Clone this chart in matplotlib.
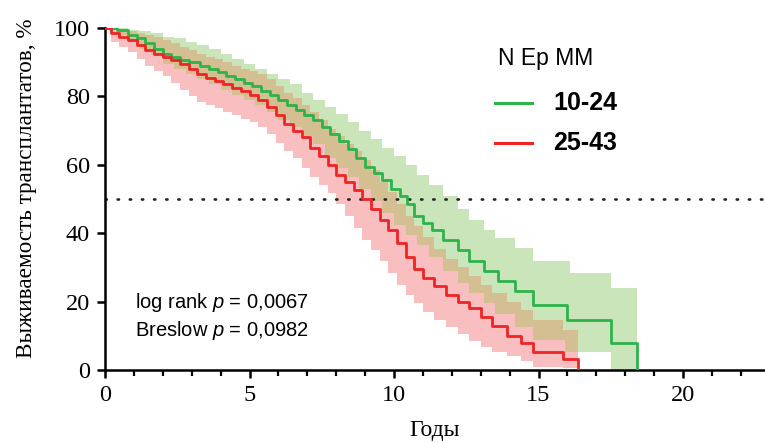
import numpy as np
import matplotlib
matplotlib.use("Agg")
import matplotlib.pyplot as plt
from matplotlib.lines import Line2D

# ---------------- data ----------------
green_label = "10-24"
red_label = "25-43"
legend_title = "N Ep MM"

green_t = [0.0, 0.4, 0.8, 1.1, 1.4, 1.7, 2.0, 2.3, 2.6, 2.9, 3.3, 3.6, 3.9, 4.2, 4.5, 4.8,
           5.1, 5.4, 5.7, 6.0, 6.3, 6.6, 6.9, 7.2, 7.5, 7.8, 8.1, 8.4, 8.7, 9.0, 9.3, 9.6,
           9.9, 10.2, 10.45, 10.7, 11.0, 11.3, 11.7, 12.2, 12.6, 13.1, 13.6, 14.2, 14.8,
           16.0, 17.5, 18.4]
green_s = [100, 99.5, 98, 97, 95.5, 94, 92.5, 91.5, 90.5, 90, 89, 88, 87, 86, 85, 84,
           83, 81.5, 80.5, 79, 77.5, 76, 74.5, 73, 71, 69, 67, 64.5, 62, 59.5, 57.5, 55.5,
           53, 51, 48.5, 45, 43, 41, 38, 35, 32, 29, 26, 23, 19,
           14.5, 8, 0]

red_t = [0.0, 0.2, 0.5, 0.8, 1.1, 1.4, 1.7, 2.0, 2.3, 2.6, 2.9, 3.2, 3.5, 3.8, 4.1, 4.4,
         4.7, 5.0, 5.3, 5.6, 5.9, 6.2, 6.5, 6.8, 7.1, 7.4, 7.7, 8.0, 8.3, 8.6, 8.9, 9.2,
         9.5, 9.8, 10.1, 10.4, 10.7, 11.0, 11.4, 11.8, 12.2, 12.6, 13.0, 13.4, 13.9, 14.4,
         14.8, 15.85, 16.35]
red_s = [100, 98.5, 97.5, 96.5, 95, 93.5, 92.5, 91.5, 90.5, 89.5, 88, 86.5, 85.5, 84.5, 83.5, 82.5,
         81.5, 80.5, 79, 77, 74.5, 72, 70, 68, 65, 62.5, 60, 57, 55, 52.5, 50, 47,
         44, 41, 37, 33, 29.5, 27, 24.5, 22, 20, 18, 15.5, 13, 10, 8,
         5.3, 3.2, 0]

green_ci_t = [0.0, 0.4, 0.8, 1.2, 1.6, 2.0, 2.4, 2.8, 3.2, 3.6, 4.0, 4.4, 4.8, 5.2, 5.6, 6.0,
              6.4, 6.8, 7.2, 7.6, 8.0, 8.4, 8.8, 9.2, 9.6, 10.0, 10.4, 10.8, 11.2, 11.7, 12.2,
              12.6, 13.1, 13.5, 14.2, 14.8, 15.9, 16.1, 17.5, 18.4]
green_ci_lo = [100, 98, 96, 94, 92, 89.5, 88, 86.5, 85, 83.5, 82, 80.5, 79, 77.5, 75.5, 73,
               71, 68.5, 66, 62, 59, 56.5, 53, 49.5, 46, 42.5, 39.5, 36.5, 33, 29, 25.5,
               22.5, 19.5, 16.5, 12.5, 8.8, 5.3, 5.3, 0, 0]
green_ci_hi = [100, 100, 99.5, 99, 98.5, 97.5, 97, 96, 95, 94, 92.5, 91, 89.5, 88, 86.5, 85,
               83.5, 81, 79, 77, 75, 72.5, 70, 67.5, 65, 62.5, 60, 57, 54, 51, 47,
               44, 41, 38.5, 35.7, 32, 32, 28.4, 24, 24]

red_ci_t = [0.0, 0.2, 0.5, 0.8, 1.1, 1.4, 1.7, 2.0, 2.3, 2.6, 2.9, 3.2, 3.5, 3.8, 4.1, 4.4,
            4.7, 5.0, 5.3, 5.6, 5.9, 6.2, 6.5, 6.8, 7.1, 7.4, 7.7, 8.0, 8.3, 8.6, 8.9, 9.2,
            9.5, 9.8, 10.1, 10.4, 10.7, 11.0, 11.4, 11.8, 12.2, 12.6, 13.0, 13.4, 13.9, 14.4,
            14.8, 15.85, 16.35]
red_ci_lo = [100, 96, 94.5, 93, 91, 89, 87.5, 86, 84, 82, 80, 78.5, 77.5, 76.5, 75.5, 74.5,
             73.5, 72.5, 71, 69, 66.5, 64, 62, 59, 56.5, 54, 51.7, 48.5, 45, 41.5, 38, 35,
             32, 28.5, 25, 22, 19.6, 17, 14.5, 12.6, 10.5, 8.5, 6.7, 5.3, 4, 2.5,
             1, 0.5, 0.5]
red_ci_hi = [100, 100, 99.5, 99, 98.5, 98, 97.5, 96.5, 95.5, 94.5, 93.5, 92.5, 91.5, 91, 90, 89,
             88, 87.5, 86.5, 85, 83, 81, 79.5, 77.5, 75.5, 73, 70.5, 68.5, 66, 64, 61.5, 58.5,
             55, 52, 48.5, 45, 42, 39, 35.5, 32.5, 30, 27.5, 25, 22.5, 20, 17.5,
             14.6, 11.7, 11.7]

x_ticks = [0, 5, 10, 15, 20]
y_ticks = [0, 20, 40, 60, 80, 100]
ref_level = 50
p_lines = ["log rank $p$ = 0,0067", "Breslow $p$ = 0,0982"]

# ---------------- style ----------------
plt.rcParams['mathtext.fontset'] = 'custom'
plt.rcParams['mathtext.rm'] = 'Liberation Sans'
plt.rcParams['mathtext.it'] = 'Liberation Sans:italic'

GREEN = '#2eb24a'
RED = '#ef2424'
GREEN_FILL = '#c9e5b9'
RED_FILL = '#f9bfc0'
TAN_FILL = '#d4bf93'

fig = plt.figure(figsize=(7.65, 4.43), dpi=100)
ax = fig.add_axes([105/765, 73/443, 660/765, 342/443])

# bands
ax.fill_between(green_ci_t, green_ci_lo, green_ci_hi, step='post', color=GREEN_FILL, lw=0, zorder=1)
ax.fill_between(red_ci_t, red_ci_lo, red_ci_hi, step='post', color=RED_FILL, lw=0, zorder=1.1)

# overlap of the two bands (derived from the band arrays)
gt = np.array(green_ci_t); rt = np.array(red_ci_t)
grid = np.unique(np.concatenate([gt, rt]))
grid = grid[grid <= min(gt[-1], rt[-1])]
def at(t_arr, v_arr, x):
    idx = np.searchsorted(t_arr, x, side='right') - 1
    return np.array(v_arr)[idx]
olo = np.maximum(at(gt, green_ci_lo, grid), at(rt, red_ci_lo, grid))
ohi = np.minimum(at(gt, green_ci_hi, grid), at(rt, red_ci_hi, grid))
ax.fill_between(grid, olo, ohi, where=ohi > olo, step='post', color=TAN_FILL, lw=0,
                zorder=1.2, interpolate=False)

# curves
ax.step(green_t, green_s, where='post', color=GREEN, lw=2.0, zorder=3)
ax.step(red_t, red_s, where='post', color=RED, lw=2.0, zorder=3.1)

# 50% reference
ax.axhline(ref_level, color='#222222', lw=1.9, dashes=(0.5, 4.1), dash_capstyle='round', zorder=2)

ax.set_xlim(0, 660/28.9)
ax.set_ylim(0, 100)
ax.set_xticks(x_ticks)
ax.set_xticks(np.arange(0, 23, 1), minor=True)
ax.set_yticks(y_ticks)
for s in ['top', 'right']:
    ax.spines[s].set_visible(False)
for s in ['left', 'bottom']:
    ax.spines[s].set_linewidth(1.8)
ax.tick_params(axis='both', which='major', direction='out', length=6, width=1.8,
               labelsize=17.5, pad=5)
ax.tick_params(axis='x', which='minor', direction='out', length=4, width=1.6)
ax.tick_params(axis='y', which='minor', left=False)
for lab in ax.get_xticklabels() + ax.get_yticklabels():
    lab.set_fontfamily('Liberation Serif')

ax.set_xlabel("Годы", family='Liberation Serif', fontsize=17, labelpad=10)
ax.set_ylabel("Выживаемость трансплантатов, %", family='Liberation Serif', fontsize=16.7)
ax.yaxis.set_label_coords(-0.103, 0.53)

# p values
ax.text(135/765, 1 - 303/443, p_lines[0], transform=fig.transFigure, family='Liberation Sans',
        fontsize=14.5, va='center', ha='left')
ax.text(135/765, 1 - 330/443, p_lines[1], transform=fig.transFigure, family='Liberation Sans',
        fontsize=14.5, va='center', ha='left')

# legend
fig.text(498/765, 1 - 58/443, legend_title, family='Liberation Sans', fontsize=16.5,
         va='center', ha='left')
for yy, col, lab in [(103, GREEN, green_label), (143, RED, red_label)]:
    fig.add_artist(Line2D([495/765, 532/765], [1 - yy/443, 1 - yy/443], color=col, lw=2.2,
                          transform=fig.transFigure))
    fig.text(553/765, 1 - yy/443, lab, family='Liberation Sans', fontweight='bold', fontsize=18,
             va='center', ha='left')

fig.savefig("out.png", dpi=100)
